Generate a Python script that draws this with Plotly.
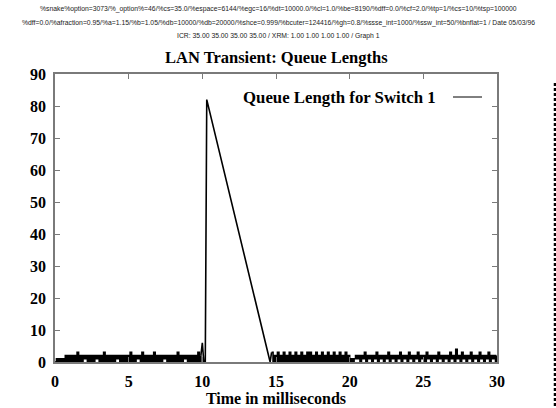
import plotly.graph_objects as go

# ---- data (queue length samples) ----
# segment 1: t = 0.0 .. 9.9 ms, 0.1 ms sampling
seg1_start, seg1_step = 0.0, 0.1
seg1_values = [0, 1, 0, 1, 0, 1, 0, 2, 0, 2,
               0, 2, 0, 2, 0, 3, 0, 2, 0, 2,
               1, 2, 0, 2, 0, 2, 0, 2, 1, 2,
               0, 2, 0, 3, 0, 2, 0, 2, 0, 2,
               0, 2, 1, 2, 0, 2, 0, 2, 0, 2,
               0, 3, 0, 2, 0, 2, 1, 2, 0, 3,
               0, 2, 0, 2, 0, 2, 0, 3, 0, 2,
               0, 2, 0, 2, 1, 2, 0, 2, 0, 2,
               0, 2, 0, 3, 0, 2, 0, 2, 1, 2,
               0, 2, 0, 2, 0, 2, 0, 3, 0, 2]
# transient: burst arriving at ~10 ms, draining until ~14.6 ms
burst_times = [10.0, 10.1, 10.2, 10.3, 14.6]
burst_values = [6, 0, 0, 82, 0]
# segment 2: t = 14.7 .. 30.0 ms, 0.1 ms sampling
seg2_start, seg2_step = 14.7, 0.1
seg2_values = [3, 0, 2, 0, 3, 0, 2, 0, 3, 0,
               2, 0, 3, 0, 2, 0, 3, 0, 2, 0,
               3, 0, 2, 0, 3, 0, 3, 0, 2, 0,
               3, 0, 2, 0, 3, 0, 2, 0, 3, 0,
               2, 0, 3, 0, 2, 0, 3, 0, 2, 0,
               3, 0, 2, 0, 1, 0, 1, 2, 1, 2,
               0, 2, 1, 3, 0, 2, 1, 2, 0, 2,
               1, 3, 0, 2, 1, 2, 0, 2, 1, 3,
               0, 2, 1, 2, 0, 2, 1, 3, 0, 2,
               1, 2, 0, 3, 1, 2, 0, 2, 1, 3,
               0, 2, 1, 2, 0, 3, 1, 2, 0, 2,
               1, 2, 0, 3, 1, 2, 0, 2, 1, 2,
               0, 3, 1, 2, 0, 4, 1, 2, 0, 3,
               1, 2, 0, 2, 1, 3, 0, 2, 1, 2,
               0, 3, 1, 2, 0, 2, 1, 3, 0, 2,
               1, 2, 0, 2]

x_ticks = [0, 5, 10, 15, 20, 25, 30]
y_ticks = [0, 10, 20, 30, 40, 50, 60, 70, 80, 90]

header_lines = [
    "%snake%option=3073/%_option%=46/%cs=35.0/%espace=6144/%egc=16/%dt=10000.0/%cl=1.0/%be=8190/%dff=0.0/%cf=2.0/%tp=1/%cs=10/%tsp=100000",
    "%dff=0.0/%afraction=0.95/%a=1.15/%b=1.05/%db=10000/%db=20000/%shce=0.999/%bcuter=124416/%gh=0.8/%ssse_int=1000/%ssw_int=50/%bnflat=1 / Date 05/03/96",
    "ICR: 35.00 35.00 35.00 35.00 / XRM: 1.00 1.00 1.00 1.00 / Graph 1",
]
title_text = "LAN Transient: Queue Lengths"
series_name = "Queue Length for Switch 1"
x_title = "Time in milliseconds"

# ---- build series ----
t1 = [round(seg1_start + i * seg1_step, 2) for i in range(len(seg1_values))]
t2 = [round(seg2_start + i * seg2_step, 2) for i in range(len(seg2_values))]
# burst piece joined to the neighbouring samples
bx = [t1[-1]] + burst_times + [t2[0]]
by = [seg1_values[-1]] + burst_values + [seg2_values[0]]

serif = "Liberation Serif, Times New Roman, serif"
axis_grey = "#7a7a7a"

fig = go.Figure()
fig.add_trace(go.Scatter(x=t1, y=seg1_values, mode="lines", name=series_name,
                         line=dict(color="black", width=1.6, shape="hv"), showlegend=False))
fig.add_trace(go.Scatter(x=bx, y=by, mode="lines", name=series_name,
                         line=dict(color="black", width=1.6), showlegend=False))
fig.add_trace(go.Scatter(x=t2, y=seg2_values, mode="lines", name=series_name,
                         line=dict(color="black", width=1.6, shape="hv"), showlegend=False))

common_axis = dict(showline=True, linecolor=axis_grey, linewidth=1.5, mirror="ticks",
                   ticks="inside", ticklen=5, tickcolor=axis_grey, tickwidth=1,
                   showgrid=False, zeroline=False, automargin=False,
                   tickfont=dict(family=serif, size=16, color="black", weight="bold"))

fig.update_layout(
    width=556, height=408,
    margin=dict(l=55, r=59, t=74, b=46),
    paper_bgcolor="white", plot_bgcolor="white",
    showlegend=False,
    xaxis=dict(range=[0, 30], tickvals=x_ticks, ticklabelstandoff=4, **common_axis,
               title=dict(text=x_title, standoff=0,
                          font=dict(family=serif, size=16, color="black", weight="bold"))),
    yaxis=dict(range=[0, 90], tickvals=y_ticks, ticklabelstandoff=4, **common_axis),
)

# header lines
for i, line in enumerate(header_lines):
    fig.add_annotation(text=line, xref="paper", yref="paper", x=0.505, y=1 + (65 - i * 13.5) / 288,
                       xanchor="center", yanchor="middle", showarrow=False,
                       font=dict(family="Liberation Sans, Arial, sans-serif", size=6.8, color="#222"))
# title
fig.add_annotation(text=title_text, xref="paper", yref="paper", x=0.5, y=1 + 16 / 288,
                   xanchor="center", yanchor="middle", showarrow=False,
                   font=dict(family=serif, size=16.5, color="black", weight="bold"))
# in-plot legend (text then sample line, as in the reference)
fig.add_annotation(text=series_name, xref="paper", yref="paper", x=(438 - 55) / 442, y=1 - 23 / 288,
                   xanchor="right", yanchor="middle", showarrow=False,
                   font=dict(family=serif, size=16.8, color="black", weight="bold"))
fig.add_shape(type="line", xref="paper", yref="paper",
              x0=(453 - 55) / 442, x1=(482 - 55) / 442, y0=1 - 23 / 288, y1=1 - 23 / 288,
              line=dict(color="black", width=1))
# dashed edge at the far right of the page
fig.add_shape(type="line", xref="paper", yref="paper",
              x0=(555 - 55) / 442, x1=(555 - 55) / 442, y0=1 + (74 - 83) / 288, y1=-46 / 288,
              line=dict(color="black", width=2.5, dash="3px,2px"))

fig.write_html("out.html")
